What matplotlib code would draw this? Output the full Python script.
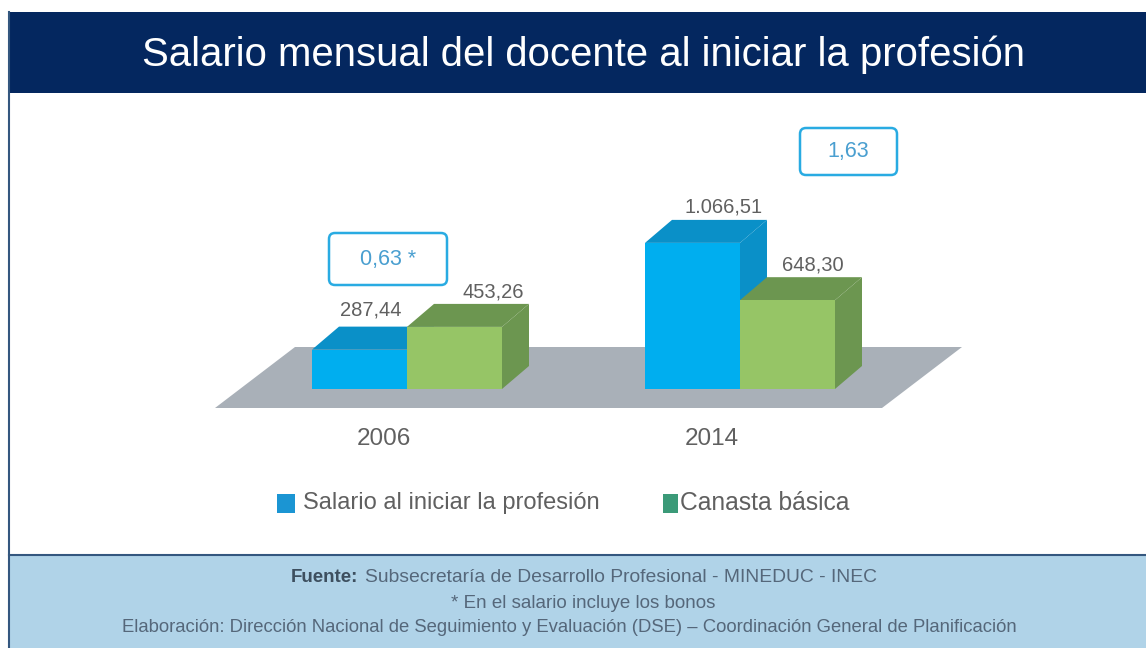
#! /usr/bin/python3

from matplotlib import pyplot as plt
from matplotlib.patches import FancyBboxPatch, Polygon, Rectangle

plt.rcParams['font.family'] = ['Liberation Sans', 'DejaVu Sans']

W = 1146
H = 648

years = ["2006", "2014"]
salario = [287.44, 1066.51]
canasta = [453.26, 648.30]
salario_labels = ["287,44", "1.066,51"]
canasta_labels = ["453,26", "648,30"]
ratio_labels = ["0,63 *", "1,63"]
legend_labels = ["Salario al iniciar la profesión", "Canasta básica"]
title = "Salario mensual del docente al iniciar la profesión"

NAVY = "#04275f"
FOOTER = "#b0d3e8"
BLUE = ["#00aeef", "#0a90c8"]
GREEN = ["#96c566", "#6c9650"]
GRAY = "#a9b0b8"
TEXT = "#606060"
FOOT_TEXT = "#55677a"

PX_PER_UNIT = 0.137
PX_PER_CAT = 333.0
BASE_Y = 389
CENTER0_X = 407
BAR_W = 95 / PX_PER_CAT
DEPTH_X = 27 / PX_PER_CAT
DEPTH_Y = 23 / PX_PER_UNIT

# label nudges in pixels from the back right corner of each bar
SALARIO_NUDGE = [(-36, 17), (-16, 13)]
CANASTA_NUDGE = [(-9, 12), (-22, 12)]


def bar3d(ax, x, w, value, colors):
    """Front face with the library's bar, then top and side faces."""
    ax.bar(x, value, width=w, align='edge', color=colors[0], zorder=3)
    top = [(x, value), (x + w, value), (x + w + DEPTH_X, value + DEPTH_Y), (x + DEPTH_X, value + DEPTH_Y)]
    side = [(x + w, 0), (x + w + DEPTH_X, DEPTH_Y), (x + w + DEPTH_X, value + DEPTH_Y), (x + w, value)]
    ax.add_patch(Polygon(side, facecolor=colors[1], zorder=2))
    ax.add_patch(Polygon(top, facecolor=colors[1], zorder=2))


def bar_label(ax, text, x, y, nudge):
    ax.annotate(text, (x, y), xytext=nudge, textcoords='offset pixels',
                color=TEXT, fontsize=14.5, ha='center', va='center', zorder=4)


fig = plt.figure(figsize=(W / 100, H / 100), dpi=100, facecolor='white')

# overlay in pixel coordinates for the poster furniture
bg = fig.add_axes([0, 0, 1, 1])
bg.set_xlim(0, W)
bg.set_ylim(H, 0)
bg.axis('off')

bg.add_patch(Rectangle((9, 12), W - 9, 81, facecolor=NAVY))
bg.add_patch(Rectangle((9, 555), W - 9, H - 555, facecolor=FOOTER))
bg.plot([9, W], [555, 555], color="#34577f", lw=1.5)
bg.plot([9, 9], [12, H], color="#34577f", lw=1.5)
bg.text(583, 55, title, color='white', fontsize=28.9, ha='center', va='center')

bg.add_patch(Polygon([(295, 347), (962, 347), (882, 408), (215, 408)], facecolor=GRAY, zorder=1))

for x0, y0, x1, y1, label in [(329, 233, 447, 285, ratio_labels[0]), (800, 128, 897, 175, ratio_labels[1])]:
    bg.add_patch(FancyBboxPatch((x0 + 6, y0 + 6), x1 - x0 - 12, y1 - y0 - 12, boxstyle="round,pad=6",
                                facecolor='white', edgecolor="#29abe2", lw=1.8))
    bg.text((x0 + x1) / 2, (y0 + y1) / 2, label, color="#4a9fd0", fontsize=15.5, ha='center', va='center')

for x, label in zip([384, 712], years):
    bg.text(x, 439, label, color=TEXT, fontsize=17.5, ha='center', va='center')

bg.add_patch(Rectangle((277, 494), 18, 19, facecolor="#1b95d3"))
bg.text(303, 503, legend_labels[0], color=TEXT, fontsize=17, ha='left', va='center')
bg.add_patch(Rectangle((663, 494), 15, 19, facecolor="#3b9a78"))
bg.text(680, 503, legend_labels[1], color=TEXT, fontsize=17.7, ha='left', va='center')

bg.text(358, 578, "Fuente:", color="#3d4f5f", fontsize=13.5, fontweight='bold', ha='right', va='center')
bg.text(365, 578, "Subsecretaría de Desarrollo Profesional - MINEDUC - INEC", color=FOOT_TEXT,
        fontsize=13.85, ha='left', va='center')
bg.text(583, 603, "* En el salario incluye los bonos", color=FOOT_TEXT, fontsize=13.5, ha='center', va='center')
bg.text(569, 627, "Elaboración: Dirección Nacional de Seguimiento y Evaluación (DSE) – Coordinación General de Planificación",
        color=FOOT_TEXT, fontsize=13.3, ha='center', va='center')

# chart axes: x = category index, y = value, scaled to the picture
left_px, right_px = 200.0, 1000.0
top_px = 110.0
ax = fig.add_axes([left_px / W, 1 - BASE_Y / H, (right_px - left_px) / W, (BASE_Y - top_px) / H])
ax.set_xlim((left_px - CENTER0_X) / PX_PER_CAT, (right_px - CENTER0_X) / PX_PER_CAT)
ax.set_ylim(0, (BASE_Y - top_px) / PX_PER_UNIT)
ax.axis('off')
ax.patch.set_alpha(0)

for i in range(len(years)):
    bar3d(ax, i - BAR_W, BAR_W, salario[i], BLUE)
    bar3d(ax, i, BAR_W, canasta[i], GREEN)
    bar_label(ax, salario_labels[i], i, salario[i] + DEPTH_Y, SALARIO_NUDGE[i])
    bar_label(ax, canasta_labels[i], i + BAR_W, canasta[i] + DEPTH_Y, CANASTA_NUDGE[i])

fig.savefig("out.png", dpi=100)
